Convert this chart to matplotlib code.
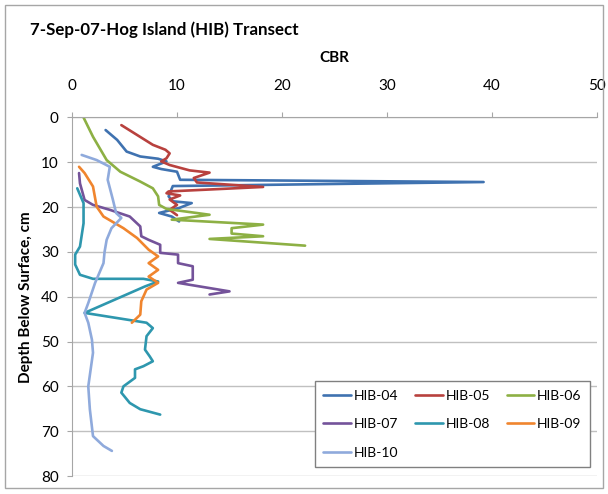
import matplotlib.pyplot as plt
from matplotlib.patches import Rectangle

# CBR readings and depths (cm) for each core of the transect
hib04_cbr = [3.2, 4.3, 5.2, 6.5, 8.2, 9.0, 7.7, 8.5, 10.0, 10.3, 39.2, 9.6, 9.2, 9.6, 11.4, 10.2, 8.3, 9.5, 10.2]
hib04_depth = [2.8, 5.0, 7.6, 8.7, 9.2, 9.8, 11.0, 11.5, 12.1, 13.9, 14.4, 15.3, 17.6, 18.7, 19.1, 20.2, 21.3, 22.1, 23.2]

hib05_cbr = [4.7, 6.2, 7.7, 8.9, 9.3, 9.0, 8.5, 9.3, 11.2, 13.1, 11.6, 11.9, 18.2, 9.2, 9.0, 10.3, 9.3, 10.0, 9.3, 10.0]
hib05_depth = [1.7, 3.9, 6.1, 7.2, 8.0, 9.1, 9.8, 10.6, 11.8, 12.3, 13.5, 14.5, 15.5, 16.5, 16.9, 17.4, 18.3, 19.5, 20.6, 21.8]

hib06_cbr = [1.1, 2.0, 3.3, 4.6, 6.5, 7.7, 8.2, 8.3, 9.0, 13.1, 9.5, 18.2, 15.2, 15.2, 18.2, 13.1, 22.2]
hib06_depth = [0.0, 4.3, 9.5, 12.1, 14.3, 15.8, 17.6, 19.5, 20.4, 21.7, 22.8, 23.9, 24.7, 25.9, 26.5, 27.1, 28.6]

hib07_cbr = [0.67, 0.76, 1.2, 2.0, 3.6, 5.5, 6.5, 6.6, 7.3, 8.4, 8.4, 10.1, 10.1, 11.5, 11.5, 10.1, 15.0, 13.1]
hib07_depth = [12.4, 14.7, 18.4, 19.5, 20.6, 22.1, 24.3, 26.5, 27.3, 28.4, 30.2, 30.6, 32.5, 33.2, 36.2, 36.9, 38.8, 39.5]

hib08_cbr = [0.5, 1.1, 1.1, 0.76, 0.3, 0.3, 0.76, 2.0, 6.8, 8.2, 6.95, 1.2, 7.1, 7.7, 7.1, 6.95, 7.4, 7.7, 6.8, 6.0,
             6.0, 4.9, 4.7, 5.5, 6.5, 8.4]
hib08_depth = [15.8, 19.1, 23.6, 28.8, 30.6, 32.8, 35.1, 36.0, 36.0, 36.6, 37.7, 43.6, 45.8, 47.0, 48.8, 51.8, 53.3, 54.4,
               55.5, 56.2, 58.1, 60.0, 61.4, 63.7, 65.1, 66.3]

hib09_cbr = [0.67, 1.2, 2.0, 2.35, 3.0, 4.9, 6.2, 7.3, 8.2, 7.3, 8.2, 7.3, 8.2, 7.1, 6.6, 6.5, 5.7]
hib09_depth = [11.0, 12.4, 15.4, 19.9, 22.1, 24.7, 26.9, 29.5, 31.0, 32.5, 34.0, 35.5, 36.9, 38.4, 41.0, 44.0, 45.8]

hib10_cbr = [0.92, 2.35, 3.6, 3.4, 3.9, 4.2, 4.7, 3.76, 3.3, 3.1, 3.0, 2.2, 1.55, 1.2, 1.55, 1.9, 2.0, 1.55, 1.7, 2.0,
             3.0, 3.8]
hib10_depth = [8.35, 9.5, 11.0, 13.9, 18.4, 21.3, 22.4, 24.7, 27.3, 30.0, 32.5, 36.9, 41.4, 43.6, 45.8, 49.6, 52.5, 60.0,
               65.1, 71.1, 73.3, 74.4]

labels = ["HIB-04", "HIB-05", "HIB-06", "HIB-07", "HIB-08", "HIB-09", "HIB-10"]
colors = ["#3F72B0", "#B8413E", "#8DB044", "#74539A", "#2E97AE", "#F0852E", "#8FAADC"]

series = [
    (hib04_cbr, hib04_depth), (hib05_cbr, hib05_depth), (hib06_cbr, hib06_depth),
    (hib07_cbr, hib07_depth), (hib08_cbr, hib08_depth), (hib09_cbr, hib09_depth),
    (hib10_cbr, hib10_depth),
]

plt.rcParams["font.family"] = ["Lato", "DejaVu Sans"]

fig = plt.figure(figsize=(6.08, 4.94), dpi=100)
fig.patches.append(Rectangle((0.008, 0.012), 0.984, 0.978, transform=fig.transFigure,
                             fill=False, edgecolor="#A6A6A6", linewidth=1.0))

ax = fig.add_axes([72 / 608, 1 - 476 / 494, 525 / 608, 358.5 / 494])

lines = []
for (x, y), lab, col in zip(series, labels, colors):
    ln, = ax.plot(x, y, color=col, linewidth=1.9, label=lab, solid_capstyle="round", solid_joinstyle="round")
    lines.append(ln)

ax.set_xlim(0, 50)
ax.set_ylim(80, 0)
ax.set_xticks(range(0, 51, 10))
ax.set_yticks(range(0, 81, 10))
ax.xaxis.tick_top()
ax.xaxis.set_label_position("top")
ax.tick_params(axis="x", direction="out", length=3.6, color="#A6A6A6", labelsize=11, pad=14)
ax.tick_params(axis="y", direction="out", length=3.6, color="#A6A6A6", labelsize=11, pad=6)

ax.grid(axis="y", color="#C0C0C0", linewidth=1.0)
ax.set_axisbelow(True)
for side in ["right", "bottom"]:
    ax.spines[side].set_visible(False)
for side in ["left", "top"]:
    ax.spines[side].set_color("#A6A6A6")

ax.set_xlabel("CBR", fontsize=11, fontweight="bold", labelpad=12)
ax.set_ylabel("Depth Below Surface, cm", fontsize=11, fontweight="bold", labelpad=6)

fig.text(30 / 608, 1 - 30 / 494, "7-Sep-07-Hog Island (HIB) Transect", fontsize=12.2,
         fontweight="bold", va="center", ha="left")

# legend filled row by row, as in the original
order = [0, 3, 6, 1, 4, 2, 5]
leg = ax.legend([lines[i] for i in order], [labels[i] for i in order],
                loc="lower right", bbox_to_anchor=(1.0, 0.005), ncol=3, fontsize=10,
                frameon=True, fancybox=False, edgecolor="#808080", framealpha=1,
                handlelength=2.0, handletextpad=0.2, columnspacing=1.2, labelspacing=1.2,
                borderpad=0.6)
leg.get_frame().set_linewidth(1.0)

fig.savefig("out.png", dpi=100)
